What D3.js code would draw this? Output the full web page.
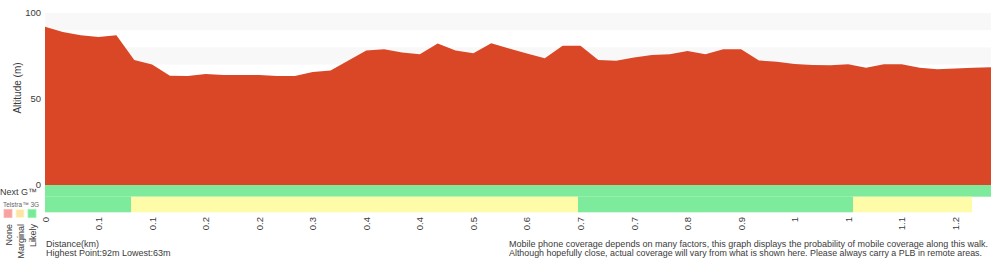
<!DOCTYPE html>
<html>
<head>
<meta charset="utf-8">
<script src="https://cdn.jsdelivr.net/npm/d3@7"></script>
<style>
  html, body { margin: 0; padding: 0; background: #fff; }
  svg { display: block; font-family: "Liberation Sans", Arial, sans-serif; }
</style>
</head>
<body>
<svg id="chart" width="1000" height="260"></svg>
<script>
// ---- data ----
const elevations = [92, 89, 87, 86, 87, 72.7, 70, 63.5, 63.4, 64.5, 64, 64,
  64, 63.3, 63.3, 65.7, 66.5, 72.4, 78.2, 78.9, 77, 76, 82.3, 78.2, 76.6, 82.4,
  79.4, 76.5, 73.7, 81, 81, 72.7, 72.3, 74.2, 75.6, 76, 77.9, 76, 78.9, 78.9,
  72.4, 71.7, 70.3, 69.8, 69.6, 70.2, 68.2, 70.2, 70.2, 68.2, 67.3, 67.7, 68.1, 68.4];
const distanceLabels = ["0", "0.1", "0.1", "0.2", "0.2", "0.3", "0.4", "0.4", "0.5",
  "0.6", "0.7", "0.7", "0.8", "0.9", "1", "1", "1.1", "1.2"];
const labelEvery = 3;
const altitudeTicks = [0, 50, 100];
const nextGStart = [0];
const nextGEnd = [53];
const nextGLevel = ["Likely"];
const threeGStart = [0, 4.82, 29.86, 45.27];
const threeGEnd = [4.82, 29.86, 45.27, 51.94];
const threeGLevel = ["Likely", "Marginal", "Likely", "Marginal"];
const coverageLevels = ["None", "Marginal", "Likely"];
const highest = 92, lowest = 63;

// ---- layout ----
const svg = d3.select("#chart");
const plotL = 45, plotR = 991, plotT = 13, plotB = 185;
const x = d3.scaleLinear().domain([0, elevations.length - 1]).range([plotL, plotR]);
const y = d3.scaleLinear().domain([0, 100]).range([plotB, plotT]);
const barColor = d3.scaleOrdinal().domain(coverageLevels).range(["#f7a3a3", "#fefca9", "#7deb9b"]);
const legendColor = d3.scaleOrdinal().domain(coverageLevels).range(["#f8a1a1", "#fde3ab", "#7de89a"]);
const textColor = "#3a3a3a";

// background bands
const bandTicks = d3.range(0, 100, 10);
svg.append("g").selectAll("rect").data(bandTicks.filter(t => Math.round((100 - t) / 10) % 2 === 1))
  .join("rect")
  .attr("x", plotL).attr("width", plotR - plotL)
  .attr("y", d => y(d + 10)).attr("height", d => y(d) - y(d + 10))
  .attr("fill", "#f8f8f8");

// elevation area
const area = d3.area().x((d, i) => x(i)).y0(y(0)).y1(d => y(d));
svg.append("path").datum(elevations).attr("d", area).attr("fill", "#d94727");

// coverage rows
const rowY = [185, 196.7], rowH = [11.7, 15.6];
function drawRow(starts, ends, levels, r) {
  svg.append("g").selectAll("rect").data(starts.map((s, i) => ({ s, e: ends[i], l: levels[i] })))
    .join("rect")
    .attr("x", d => x(d.s)).attr("width", d => x(d.e) - x(d.s))
    .attr("y", rowY[r]).attr("height", rowH[r])
    .attr("fill", d => barColor(d.l));
}
drawRow(nextGStart, nextGEnd, nextGLevel, 0);
drawRow(threeGStart, threeGEnd, threeGLevel, 1);

// y axis labels
svg.append("g").selectAll("text").data(altitudeTicks).join("text")
  .attr("x", 41).attr("y", d => y(d)).attr("dy", "0.35em")
  .attr("text-anchor", "end").attr("font-size", 9.5).attr("fill", textColor)
  .text(d => d);
svg.append("text").attr("transform", "translate(21,88) rotate(-90)")
  .attr("text-anchor", "middle").attr("font-size", 10).attr("fill", textColor)
  .text("Altitude (m)");

// x tick labels
svg.append("g").selectAll("text").data(distanceLabels).join("text")
  .attr("transform", (d, i) => `translate(${x(i * labelEvery) + 3.5},217) rotate(-90)`)
  .attr("text-anchor", "end").attr("font-size", 9.5).attr("fill", textColor)
  .text(d => d);

// legend
svg.append("text").attr("x", 0).attr("y", 195).attr("font-size", 9).attr("fill", textColor)
  .text("Next G™");
svg.append("text").attr("x", 3).attr("y", 207).attr("font-size", 6.5).attr("fill", "#666")
  .text("Telstra™ 3G");
const lg = svg.append("g").selectAll("g").data(coverageLevels).join("g")
  .attr("transform", (d, i) => `translate(${4 + i * 12},0)`);
lg.append("rect").attr("x", 0).attr("y", 209.5).attr("width", 8).attr("height", 8)
  .attr("fill", d => legendColor(d)).attr("stroke", d => d3.color(legendColor(d)).brighter(0.3)).attr("stroke-width", 0.8);
lg.append("text").attr("transform", "translate(7.5,224) rotate(-90)")
  .attr("text-anchor", "end").attr("font-size", 9).attr("fill", textColor)
  .text(d => d);

// bottom texts
svg.append("text").attr("x", 46).attr("y", 246.5).attr("font-size", 9).attr("fill", textColor)
  .text("Distance(km)");
svg.append("text").attr("x", 46).attr("y", 255.5).attr("font-size", 9).attr("fill", textColor)
  .text(`Highest Point:${highest}m Lowest:${lowest}m`);
svg.append("text").attr("x", 509).attr("y", 246.5).attr("font-size", 8.8).attr("fill", textColor)
  .attr("textLength", 479).attr("lengthAdjust", "spacingAndGlyphs")
  .text("Mobile phone coverage depends on many factors, this graph displays the probability of mobile coverage along this walk.");
svg.append("text").attr("x", 509).attr("y", 255.5).attr("font-size", 8.8).attr("fill", textColor)
  .attr("textLength", 473).attr("lengthAdjust", "spacingAndGlyphs")
  .text("Although hopefully close, actual coverage will vary from what is shown here. Please always carry a PLB in remote areas.");
</script>
</body>
</html>
